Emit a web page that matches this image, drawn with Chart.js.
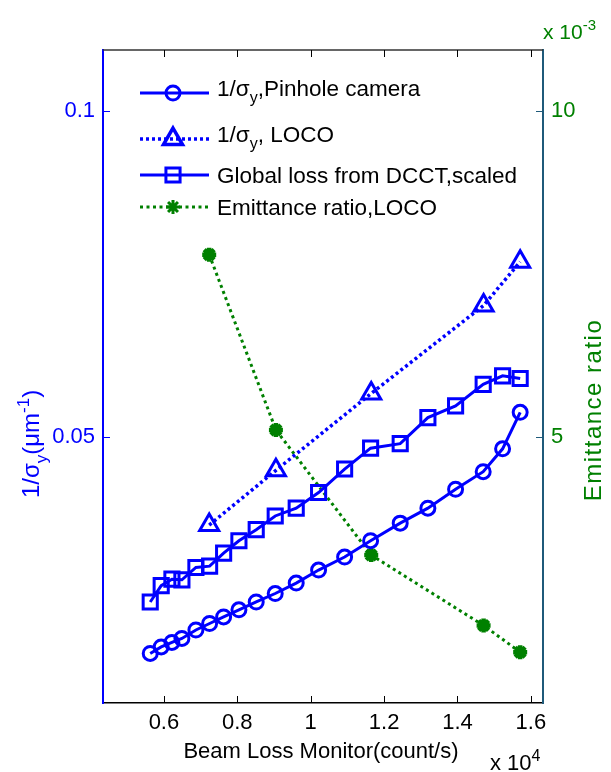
<!DOCTYPE html>
<html>
<head>
<meta charset="utf-8">
<script src="https://cdn.jsdelivr.net/npm/chart.js@4.4.0/dist/chart.umd.min.js"></script>
<style>
  html, body { margin: 0; padding: 0; background: #fff; }
</style>
</head>
<body>
<canvas id="chart" width="611" height="772"></canvas>
<script>
// beam loss monitor, x 10^4 count/s
var bmX = [0.5627, 0.5926, 0.6218, 0.6490, 0.6872, 0.7245, 0.7627, 0.8044, 0.8515, 0.9033,
           0.9605, 1.0215, 1.0924, 1.1632, 1.2439, 1.3193, 1.3948, 1.4700, 1.5229, 1.5708];
// 1/sigma_y from pinhole camera, um^-1
var pinhole = [0.0168, 0.0178, 0.0185, 0.0191, 0.0204, 0.0214, 0.0224, 0.0235, 0.0247, 0.0260,
               0.0276, 0.0296, 0.0316, 0.0341, 0.0368, 0.0391, 0.0420, 0.0447, 0.0482, 0.0538];
// global loss from DCCT (scaled onto left axis)
var dcct = [0.0247, 0.0272, 0.0282, 0.0281, 0.0300, 0.0302, 0.0322, 0.0341, 0.0358, 0.0379,
            0.0391, 0.0415, 0.0451, 0.0483, 0.0490, 0.0530, 0.0548, 0.0581, 0.0594, 0.0590];
// LOCO points
var locoX = [0.7234, 0.9052, 1.1649, 1.4711, 1.5708];
var locoSigma = [0.0365, 0.0449, 0.0567, 0.0702, 0.0769];
var emitRatio = [7.80, 5.11, 3.19, 2.11, 1.70]; // x 10^-3

var xTicks = [0.6, 0.8, 1.0, 1.2, 1.4, 1.6];
var leftTicks = [0.05, 0.1];
var rightTicks = [5, 10];

var BLUE = "#0000ff";
var GREEN = "#008000";
var RIGHT_AXIS = "#1f5a7a";
var FONT = '"Liberation Sans", Arial, sans-serif';

function pts(xs, ys) {
  return xs.map(function (x, i) { return { x: x, y: ys[i] }; });
}

function richText(ctx, parts, x, y, size, color, measureOnly, spacing) {
  var cx = x;
  ctx.fillStyle = color;
  ctx.textAlign = "left";
  ctx.textBaseline = "alphabetic";
  ctx.letterSpacing = (spacing || 0) + "px";
  parts.forEach(function (p) {
    var s = (p.sub || p.sup) ? Math.round(size * 0.72) : size;
    ctx.font = s + "px " + FONT;
    var dy = p.sub ? size * 0.32 : (p.sup ? -size * 0.42 : 0);
    if (!measureOnly) ctx.fillText(p.t, cx, y + dy);
    cx += ctx.measureText(p.t).width;
  });
  ctx.letterSpacing = "0px";
  return cx - x;
}

var legendRows = [
  { ds: 0, lineY: 93, baseY: 96, text: [{ t: "1/σ" }, { t: "y", sub: true }, { t: ",Pinhole camera" }] },
  { ds: 1, lineY: 139, baseY: 142, text: [{ t: "1/σ" }, { t: "y", sub: true }, { t: ", LOCO" }] },
  { ds: 2, lineY: 175, baseY: 183, text: [{ t: "Global loss from DCCT,scaled" }] },
  { ds: 3, lineY: 207, baseY: 215, text: [{ t: "Emittance ratio,LOCO" }] }
];

var decor = {
  id: "decor",
  afterDraw: function (chart) {
    var ctx = chart.ctx;
    var a = chart.chartArea;
    var sx = chart.scales.x, sl = chart.scales.yL, sr = chart.scales.yR;
    ctx.save();

    // top frame line
    ctx.strokeStyle = "#333333";
    ctx.lineWidth = 1.5;
    ctx.beginPath();
    ctx.moveTo(a.left, a.top);
    ctx.lineTo(a.right, a.top);
    ctx.stroke();

    // inward ticks
    ctx.lineWidth = 1;
    ctx.strokeStyle = "#000";
    xTicks.forEach(function (v) {
      var px = Math.round(sx.getPixelForValue(v)) + 0.5;
      ctx.beginPath();
      ctx.moveTo(px, a.bottom); ctx.lineTo(px, a.bottom - 7);
      ctx.moveTo(px, a.top); ctx.lineTo(px, a.top + 7);
      ctx.stroke();
    });
    ctx.strokeStyle = BLUE;
    leftTicks.forEach(function (v) {
      var py = Math.round(sl.getPixelForValue(v)) + 0.5;
      ctx.beginPath();
      ctx.moveTo(a.left, py); ctx.lineTo(a.left + 7, py);
      ctx.stroke();
    });
    ctx.strokeStyle = RIGHT_AXIS;
    rightTicks.forEach(function (v) {
      var py = Math.round(sr.getPixelForValue(v)) + 0.5;
      ctx.beginPath();
      ctx.moveTo(a.right, py); ctx.lineTo(a.right - 7, py);
      ctx.stroke();
    });

    // axis titles
    var w = richText(ctx, [{ t: "Beam Loss Monitor(count/s)" }], 0, 0, 22, "#000", true);
    richText(ctx, [{ t: "Beam Loss Monitor(count/s)" }], 321 - w / 2, 758, 22, "#000");
    richText(ctx, [{ t: "x 10" }, { t: "4", sup: true }], 490, 770, 22, "#000");
    richText(ctx, [{ t: "x 10" }, { t: "-3", sup: true }], 543, 39, 21, GREEN);

    var yTitle = [{ t: "1/σ" }, { t: "y", sub: true }, { t: "(μm" }, { t: "-1", sup: true }, { t: ")" }];
    w = richText(ctx, yTitle, 0, 0, 24, BLUE, true);
    ctx.save();
    ctx.translate(39, 444);
    ctx.rotate(-Math.PI / 2);
    richText(ctx, yTitle, -w / 2, 0, 24, BLUE);
    ctx.restore();

    var rTitle = [{ t: "Emittance ratio" }];
    w = richText(ctx, rTitle, 0, 0, 24, GREEN, true, 1.5);
    ctx.save();
    ctx.translate(601, 410);
    ctx.rotate(-Math.PI / 2);
    richText(ctx, rTitle, -w / 2, 0, 24, GREEN, false, 1.5);
    ctx.restore();

    // legend
    legendRows.forEach(function (row) {
      var ds = chart.data.datasets[row.ds];
      ctx.save();
      ctx.strokeStyle = ds.borderColor;
      ctx.lineWidth = ds.borderWidth;
      ctx.setLineDash(ds.borderDash || []);
      ctx.beginPath();
      ctx.moveTo(140, row.lineY);
      ctx.lineTo(209, row.lineY);
      ctx.stroke();
      ctx.setLineDash([]);
      ctx.strokeStyle = ds.pointBorderColor;
      ctx.fillStyle = ds.pointBackgroundColor;
      Chart.helpers.drawPoint(ctx, {
        pointStyle: ds.pointStyle,
        radius: ds.pointRadius,
        borderWidth: ds.pointBorderWidth,
        rotation: 0
      }, 173, row.lineY);
      ctx.restore();
      richText(ctx, row.text, 217, row.baseY, 22.5, "#000");
    });

    ctx.restore();
  }
};

var chart = new Chart(document.getElementById("chart"), {
  type: "line",
  data: {
    datasets: [
      {
        label: "1/σy,Pinhole camera",
        data: pts(bmX, pinhole),
        yAxisID: "yL",
        borderColor: BLUE,
        borderWidth: 3,
        pointStyle: "circle",
        pointRadius: 7,
        pointBorderWidth: 3,
        pointBorderColor: BLUE,
        pointBackgroundColor: "rgba(0,0,0,0)"
      },
      {
        label: "1/σy, LOCO",
        data: pts(locoX, locoSigma),
        yAxisID: "yL",
        borderColor: BLUE,
        borderWidth: 3.5,
        borderDash: [3, 3],
        pointStyle: "triangle",
        pointRadius: 11,
        pointBorderWidth: 3,
        pointBorderColor: BLUE,
        pointBackgroundColor: "rgba(0,0,0,0)"
      },
      {
        label: "Global loss from DCCT,scaled",
        data: pts(bmX, dcct),
        yAxisID: "yL",
        borderColor: BLUE,
        borderWidth: 3,
        pointStyle: "rect",
        pointRadius: 10,
        pointBorderWidth: 3,
        pointBorderColor: BLUE,
        pointBackgroundColor: "rgba(0,0,0,0)"
      },
      {
        label: "Emittance ratio,LOCO",
        data: pts(locoX, emitRatio),
        yAxisID: "yR",
        borderColor: GREEN,
        borderWidth: 3,
        borderDash: [3, 3.5],
        pointStyle: "star",
        pointRadius: 7,
        pointBorderWidth: 4.5,
        pointBorderColor: GREEN,
        pointBackgroundColor: GREEN
      }
    ]
  },
  options: {
    responsive: false,
    animation: false,
    devicePixelRatio: 1,
    layout: { padding: { top: 50, left: 0, right: 0, bottom: 0 } },
    plugins: { legend: { display: false }, tooltip: { enabled: false } },
    elements: { line: { tension: 0, fill: false } },
    scales: {
      x: {
        type: "linear",
        position: "bottom",
        min: 0.434,
        max: 1.633,
        afterBuildTicks: function (s) { s.ticks = xTicks.map(function (v) { return { value: v }; }); },
        afterFit: function (s) { s.height = 772 - 703; },
        grid: { display: false, drawTicks: false },
        border: { display: true, color: "#000", width: 1.5 },
        ticks: {
          color: "#000",
          font: { family: FONT, size: 22 },
          padding: 7,
          maxRotation: 0,
          autoSkip: false,
          callback: function (v) { return String(Math.round(v * 10) / 10); }
        }
      },
      yL: {
        type: "linear",
        position: "left",
        min: 0.0092,
        max: 0.1094,
        afterBuildTicks: function (s) { s.ticks = leftTicks.map(function (v) { return { value: v }; }); },
        afterFit: function (s) { s.width = 103; },
        grid: { display: false, drawTicks: false },
        border: { display: true, color: BLUE, width: 2 },
        ticks: {
          color: BLUE,
          font: { family: FONT, size: 22 },
          padding: 8,
          callback: function (v) { return String(v); }
        }
      },
      yR: {
        type: "linear",
        position: "right",
        min: 0.92,
        max: 10.94,
        afterBuildTicks: function (s) { s.ticks = rightTicks.map(function (v) { return { value: v }; }); },
        afterFit: function (s) { s.width = 611 - 543; },
        grid: { display: false, drawTicks: false },
        border: { display: true, color: RIGHT_AXIS, width: 2 },
        ticks: {
          color: GREEN,
          font: { family: FONT, size: 22 },
          padding: 8,
          callback: function (v) { return String(v); }
        }
      }
    }
  },
  plugins: [decor]
});
</script>
</body>
</html>
